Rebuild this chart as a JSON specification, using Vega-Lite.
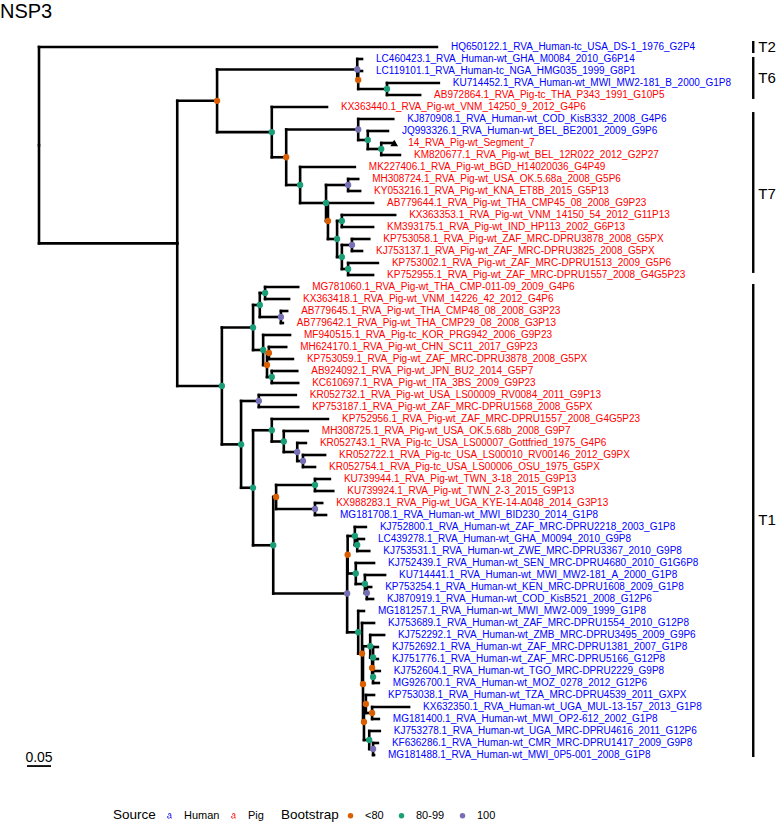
{
  "$schema": "https://vega.github.io/schema/vega-lite/v6.json",
  "width": 778,
  "height": 800,
  "autosize": {"type": "none"},
  "padding": {"left": 0, "top": 24, "right": 0, "bottom": 0},
  "title": {"text": "NSP3", "anchor": "start", "fontSize": 20, "fontWeight": "normal", "font": "Liberation Sans", "color": "#000", "offset": -14, "baseline": "alphabetic", "frame": "group"},
  "config": {"view": {"stroke": null}, "background": "white"},
  "datasets": {
    "edges": [
      {"px":0,"py":9.182,"cx":0.829,"cy":1,"label":"HQ650122.1_RVA_Human-tc_USA_DS-1_1976_G2P4","source":"Human"},
      {"px":0,"py":9.182,"cx":0.288,"cy":17.365},
      {"px":0.288,"py":17.365,"cx":0.371,"cy":5.484,"boot":"<80"},
      {"px":0.288,"py":17.365,"cx":0.381,"cy":29.245,"boot":"80-99"},
      {"px":0.371,"py":5.484,"cx":0.663,"cy":2.875,"boot":"100"},
      {"px":0.371,"py":5.484,"cx":0.485,"cy":8.094,"boot":"80-99"},
      {"px":0.663,"py":2.875,"cx":0.673,"cy":2,"label":"LC460423.1_RVA_Human-wt_GHA_M0084_2010_G6P14","source":"Human"},
      {"px":0.663,"py":2.875,"cx":0.665,"cy":3.75,"boot":"<80"},
      {"px":0.665,"py":3.75,"cx":0.673,"cy":3,"label":"LC119101.1_RVA_Human-tc_NGA_HMG035_1999_G8P1","source":"Human"},
      {"px":0.665,"py":3.75,"cx":0.725,"cy":4.5,"boot":"80-99"},
      {"px":0.725,"py":4.5,"cx":0.833,"cy":4,"label":"KU714452.1_RVA_Human-wt_MWI_MW2-181_B_2000_G1P8","source":"Human"},
      {"px":0.725,"py":4.5,"cx":0.794,"cy":5,"label":"AB972864.1_RVA_Pig-tc_THA_P343_1991_G10P5","source":"Pig"},
      {"px":0.485,"py":8.094,"cx":0.6,"cy":6,"label":"KX363440.1_RVA_Pig-wt_VNM_14250_9_2012_G4P6","source":"Pig"},
      {"px":0.485,"py":8.094,"cx":0.515,"cy":10.188,"boot":"<80"},
      {"px":0.515,"py":10.188,"cx":0.665,"cy":7.875,"boot":"100"},
      {"px":0.515,"py":10.188,"cx":0.544,"cy":12.5,"boot":"80-99"},
      {"px":0.665,"py":7.875,"cx":0.738,"cy":7,"label":"KJ870908.1_RVA_Human-wt_COD_KisB332_2008_G4P6","source":"Human"},
      {"px":0.665,"py":7.875,"cx":0.685,"cy":8.75,"boot":"80-99"},
      {"px":0.685,"py":8.75,"cx":0.727,"cy":8,"label":"JQ993326.1_RVA_Human-wt_BEL_BE2001_2009_G9P6","source":"Human"},
      {"px":0.685,"py":8.75,"cx":0.713,"cy":9.5,"boot":"80-99"},
      {"px":0.713,"py":9.5,"cx":0.74,"cy":9,"label":"14_RVA_Pig-wt_Segment_7","source":"Pig"},
      {"px":0.713,"py":9.5,"cx":0.752,"cy":10,"label":"KM820677.1_RVA_Pig-wt_BEL_12R022_2012_G2P27","source":"Pig"},
      {"px":0.544,"py":12.5,"cx":0.658,"cy":11,"label":"MK227406.1_RVA_Pig-wt_BGD_H14020036_G4P49","source":"Pig"},
      {"px":0.544,"py":12.5,"cx":0.598,"cy":14,"boot":"80-99"},
      {"px":0.598,"py":14,"cx":0.644,"cy":12.5,"boot":"100"},
      {"px":0.598,"py":14,"cx":0.602,"cy":15.5,"boot":"<80"},
      {"px":0.644,"py":12.5,"cx":0.665,"cy":12,"label":"MH308724.1_RVA_Pig-wt_USA_OK.5.68a_2008_G5P6","source":"Pig"},
      {"px":0.644,"py":12.5,"cx":0.669,"cy":13,"label":"KY053216.1_RVA_Pig-wt_KNA_ET8B_2015_G5P13","source":"Pig"},
      {"px":0.602,"py":15.5,"cx":0.696,"cy":14,"label":"AB779644.1_RVA_Pig-wt_THA_CMP45_08_2008_G9P23","source":"Pig"},
      {"px":0.602,"py":15.5,"cx":0.621,"cy":17,"boot":"80-99"},
      {"px":0.621,"py":17,"cx":0.631,"cy":15.5,"boot":"80-99"},
      {"px":0.621,"py":17,"cx":0.631,"cy":18.5,"boot":"80-99"},
      {"px":0.631,"py":15.5,"cx":0.742,"cy":15,"label":"KX363353.1_RVA_Pig-wt_VNM_14150_54_2012_G11P13","source":"Pig"},
      {"px":0.631,"py":15.5,"cx":0.696,"cy":16,"label":"KM393175.1_RVA_Pig-wt_IND_HP113_2002_G6P13","source":"Pig"},
      {"px":0.631,"py":18.5,"cx":0.652,"cy":17.5,"boot":"100"},
      {"px":0.631,"py":18.5,"cx":0.644,"cy":19.5,"boot":"80-99"},
      {"px":0.652,"py":17.5,"cx":0.688,"cy":17,"label":"KP753058.1_RVA_Pig-wt_ZAF_MRC-DPRU3878_2008_G5PX","source":"Pig"},
      {"px":0.652,"py":17.5,"cx":0.673,"cy":18,"label":"KJ753137.1_RVA_Pig-wt_ZAF_MRC-DPRU3825_2008_G5PX","source":"Pig"},
      {"px":0.644,"py":19.5,"cx":0.706,"cy":19,"label":"KP753002.1_RVA_Pig-wt_ZAF_MRC-DPRU1513_2009_G5P6","source":"Pig"},
      {"px":0.644,"py":19.5,"cx":0.696,"cy":20,"label":"KP752955.1_RVA_Pig-wt_ZAF_MRC-DPRU1557_2008_G4G5P23","source":"Pig"},
      {"px":0.381,"py":29.245,"cx":0.446,"cy":24.375,"boot":"80-99"},
      {"px":0.381,"py":29.245,"cx":0.421,"cy":34.115,"boot":"80-99"},
      {"px":0.446,"py":24.375,"cx":0.46,"cy":22.5,"boot":"80-99"},
      {"px":0.446,"py":24.375,"cx":0.467,"cy":26.25,"boot":"80-99"},
      {"px":0.46,"py":22.5,"cx":0.471,"cy":21.5,"boot":"80-99"},
      {"px":0.46,"py":22.5,"cx":0.504,"cy":23.5,"boot":"100"},
      {"px":0.471,"py":21.5,"cx":0.54,"cy":21,"label":"MG781060.1_RVA_Pig-wt_THA_CMP-011-09_2009_G4P6","source":"Pig"},
      {"px":0.471,"py":21.5,"cx":0.521,"cy":22,"label":"KX363418.1_RVA_Pig-wt_VNM_14226_42_2012_G4P6","source":"Pig"},
      {"px":0.504,"py":23.5,"cx":0.517,"cy":23,"label":"AB779645.1_RVA_Pig-wt_THA_CMP48_08_2008_G3P23","source":"Pig"},
      {"px":0.504,"py":23.5,"cx":0.508,"cy":24,"label":"AB779642.1_RVA_Pig-wt_THA_CMP29_08_2008_G3P13","source":"Pig"},
      {"px":0.467,"py":26.25,"cx":0.523,"cy":25,"label":"MF940515.1_RVA_Pig-tc_KOR_PRG942_2006_G9P23","source":"Pig"},
      {"px":0.467,"py":26.25,"cx":0.475,"cy":27.5,"boot":"<80"},
      {"px":0.475,"py":27.5,"cx":0.479,"cy":26.5,"boot":"<80"},
      {"px":0.475,"py":27.5,"cx":0.485,"cy":28.5,"boot":"80-99"},
      {"px":0.479,"py":26.5,"cx":0.515,"cy":26,"label":"MH624170.1_RVA_Pig-wt_CHN_SC11_2017_G9P23","source":"Pig"},
      {"px":0.479,"py":26.5,"cx":0.529,"cy":27,"label":"KP753059.1_RVA_Pig-wt_ZAF_MRC-DPRU3878_2008_G5PX","source":"Pig"},
      {"px":0.485,"py":28.5,"cx":0.538,"cy":28,"label":"AB924092.1_RVA_Pig-wt_JPN_BU2_2014_G5P7","source":"Pig"},
      {"px":0.485,"py":28.5,"cx":0.54,"cy":29,"label":"KC610697.1_RVA_Pig-wt_ITA_3BS_2009_G9P23","source":"Pig"},
      {"px":0.421,"py":34.115,"cx":0.458,"cy":30.5,"boot":"100"},
      {"px":0.421,"py":34.115,"cx":0.446,"cy":37.73,"boot":"80-99"},
      {"px":0.458,"py":30.5,"cx":0.535,"cy":30,"label":"KR052732.1_RVA_Pig-wt_USA_LS00009_RV0084_2011_G9P13","source":"Pig"},
      {"px":0.458,"py":30.5,"cx":0.54,"cy":31,"label":"KP753187.1_RVA_Pig-wt_ZAF_MRC-DPRU1568_2008_G5PX","source":"Pig"},
      {"px":0.446,"py":37.73,"cx":0.485,"cy":32.938,"boot":"80-99"},
      {"px":0.446,"py":37.73,"cx":0.488,"cy":42.522,"boot":"80-99"},
      {"px":0.485,"py":32.938,"cx":0.602,"cy":32,"label":"KP752956.1_RVA_Pig-wt_ZAF_MRC-DPRU1557_2008_G4G5P23","source":"Pig"},
      {"px":0.485,"py":32.938,"cx":0.51,"cy":33.875,"boot":"80-99"},
      {"px":0.51,"py":33.875,"cx":0.56,"cy":33,"label":"MH308725.1_RVA_Pig-wt_USA_OK.5.68b_2008_G9P7","source":"Pig"},
      {"px":0.51,"py":33.875,"cx":0.538,"cy":34.75,"boot":"100"},
      {"px":0.538,"py":34.75,"cx":0.556,"cy":34,"label":"KR052743.1_RVA_Pig-tc_USA_LS00007_Gottfried_1975_G4P6","source":"Pig"},
      {"px":0.538,"py":34.75,"cx":0.55,"cy":35.5,"boot":"100"},
      {"px":0.55,"py":35.5,"cx":0.596,"cy":35,"label":"KR052722.1_RVA_Pig-tc_USA_LS00010_RV00146_2012_G9PX","source":"Pig"},
      {"px":0.55,"py":35.5,"cx":0.575,"cy":36,"label":"KR052754.1_RVA_Pig-tc_USA_LS00006_OSU_1975_G5PX","source":"Pig"},
      {"px":0.488,"py":42.522,"cx":0.494,"cy":38.5,"boot":"<80"},
      {"px":0.488,"py":42.522,"cx":0.642,"cy":46.543,"boot":"100"},
      {"px":0.494,"py":38.5,"cx":0.575,"cy":37.5,"boot":"80-99"},
      {"px":0.494,"py":38.5,"cx":0.575,"cy":39.5,"boot":"100"},
      {"px":0.575,"py":37.5,"cx":0.606,"cy":37,"label":"KU739944.1_RVA_Pig-wt_TWN_3-18_2015_G9P13","source":"Pig"},
      {"px":0.575,"py":37.5,"cx":0.613,"cy":38,"label":"KU739924.1_RVA_Pig-wt_TWN_2-3_2015_G9P13","source":"Pig"},
      {"px":0.575,"py":39.5,"cx":0.59,"cy":39,"label":"KX988283.1_RVA_Pig-wt_UGA_KYE-14-A048_2014_G3P13","source":"Pig"},
      {"px":0.575,"py":39.5,"cx":0.598,"cy":40,"label":"MG181708.1_RVA_Human-wt_MWI_BID230_2014_G1P8","source":"Human"},
      {"px":0.642,"py":46.543,"cx":0.643,"cy":43.313,"boot":"<80"},
      {"px":0.642,"py":46.543,"cx":0.665,"cy":49.773,"boot":"80-99"},
      {"px":0.643,"py":43.313,"cx":0.658,"cy":41.75,"boot":"80-99"},
      {"px":0.643,"py":43.313,"cx":0.66,"cy":44.875,"boot":"80-99"},
      {"px":0.658,"py":41.75,"cx":0.681,"cy":41,"label":"KJ752800.1_RVA_Human-wt_ZAF_MRC-DPRU2218_2003_G1P8","source":"Human"},
      {"px":0.658,"py":41.75,"cx":0.663,"cy":42.5,"boot":"80-99"},
      {"px":0.663,"py":42.5,"cx":0.677,"cy":42,"label":"LC439278.1_RVA_Human-wt_GHA_M0094_2010_G9P8","source":"Human"},
      {"px":0.663,"py":42.5,"cx":0.688,"cy":43,"label":"KJ753531.1_RVA_Human-wt_ZWE_MRC-DPRU3367_2010_G9P8","source":"Human"},
      {"px":0.66,"py":44.875,"cx":0.698,"cy":44,"label":"KJ752439.1_RVA_Human-wt_SEN_MRC-DPRU4680_2010_G1G6P8","source":"Human"},
      {"px":0.66,"py":44.875,"cx":0.679,"cy":45.75,"boot":"80-99"},
      {"px":0.679,"py":45.75,"cx":0.721,"cy":45,"label":"KU714441.1_RVA_Human-wt_MWI_MW2-181_A_2000_G1P8","source":"Human"},
      {"px":0.679,"py":45.75,"cx":0.683,"cy":46.5,"boot":"100"},
      {"px":0.683,"py":46.5,"cx":0.692,"cy":46,"label":"KP753254.1_RVA_Human-wt_KEN_MRC-DPRU1608_2009_G1P8","source":"Human"},
      {"px":0.683,"py":46.5,"cx":0.696,"cy":47,"label":"KJ870919.1_RVA_Human-wt_COD_KisB521_2008_G12P6","source":"Human"},
      {"px":0.665,"py":49.773,"cx":0.677,"cy":48,"label":"MG181257.1_RVA_Human-wt_MWI_MW2-009_1999_G1P8","source":"Human"},
      {"px":0.665,"py":49.773,"cx":0.673,"cy":51.547,"boot":"<80"},
      {"px":0.673,"py":51.547,"cx":0.698,"cy":49,"label":"KJ753689.1_RVA_Human-wt_ZAF_MRC-DPRU1554_2010_G12P8","source":"Human"},
      {"px":0.673,"py":51.547,"cx":0.675,"cy":54.094,"boot":"<80"},
      {"px":0.675,"py":54.094,"cx":0.69,"cy":50.938,"boot":"80-99"},
      {"px":0.675,"py":54.094,"cx":0.677,"cy":57.25,"boot":"<80"},
      {"px":0.69,"py":50.938,"cx":0.719,"cy":50,"label":"KJ752292.1_RVA_Human-wt_ZMB_MRC-DPRU3495_2009_G9P6","source":"Human"},
      {"px":0.69,"py":50.938,"cx":0.696,"cy":51.875,"boot":"80-99"},
      {"px":0.696,"py":51.875,"cx":0.706,"cy":51,"label":"KJ752692.1_RVA_Human-wt_ZAF_MRC-DPRU1381_2007_G1P8","source":"Human"},
      {"px":0.696,"py":51.875,"cx":0.694,"cy":52.75,"boot":"<80"},
      {"px":0.694,"py":52.75,"cx":0.706,"cy":52,"label":"KJ751776.1_RVA_Human-wt_ZAF_MRC-DPRU5166_G12P8","source":"Human"},
      {"px":0.694,"py":52.75,"cx":0.696,"cy":53.5,"boot":"80-99"},
      {"px":0.696,"py":53.5,"cx":0.71,"cy":53,"label":"KJ752604.1_RVA_Human-wt_TGO_MRC-DPRU2229_G9P8","source":"Human"},
      {"px":0.696,"py":53.5,"cx":0.708,"cy":54,"label":"MG926700.1_RVA_Human-wt_MOZ_0278_2012_G12P6","source":"Human"},
      {"px":0.677,"py":57.25,"cx":0.681,"cy":55.75,"boot":"<80"},
      {"px":0.677,"py":57.25,"cx":0.688,"cy":58.75,"boot":"80-99"},
      {"px":0.681,"py":55.75,"cx":0.698,"cy":55,"label":"KP753038.1_RVA_Human-wt_TZA_MRC-DPRU4539_2011_GXPX","source":"Human"},
      {"px":0.681,"py":55.75,"cx":0.694,"cy":56.5,"boot":"<80"},
      {"px":0.694,"py":56.5,"cx":0.771,"cy":56,"label":"KX632350.1_RVA_Human-wt_UGA_MUL-13-157_2013_G1P8","source":"Human"},
      {"px":0.694,"py":56.5,"cx":0.708,"cy":57,"label":"MG181400.1_RVA_Human-wt_MWI_OP2-612_2002_G1P8","source":"Human"},
      {"px":0.688,"py":58.75,"cx":0.71,"cy":58,"label":"KJ753278.1_RVA_Human-wt_UGA_MRC-DPRU4616_2011_G12P6","source":"Human"},
      {"px":0.688,"py":58.75,"cx":0.696,"cy":59.5,"boot":"100"},
      {"px":0.696,"py":59.5,"cx":0.706,"cy":59,"label":"KF636286.1_RVA_Human-wt_CMR_MRC-DPRU1417_2009_G9P8","source":"Human"},
      {"px":0.696,"py":59.5,"cx":0.698,"cy":60,"label":"MG181488.1_RVA_Human-wt_MWI_0P5-001_2008_G1P8","source":"Human"}
    ],
    "clades": [
      {"clade":"T2","from":0.5,"to":1.5,"mid":1},
      {"clade":"T6","from":1.83,"to":5.33,"mid":3.58},
      {"clade":"T7","from":6.42,"to":19.83,"mid":13.25},
      {"clade":"T1","from":20.75,"to":60.17,"mid":40.42}
    ],
    "scalebar": [
      {"text":"0.05","start":-0.025,"end":0.025,"mid":0,"y":60.92}
    ]
  },
  "layer": [
    {
      "data": {"name": "edges"},
      "mark": {"type": "rule", "strokeWidth": 2.6, "strokeCap": "square", "color": "#000"},
      "encoding": {
        "x": {"field": "px", "type": "quantitative", "axis": null, "scale": {"domain": [0, 1], "range": [39, 519], "zero": false, "nice": false}},
        "y": {"field": "py", "type": "quantitative", "axis": null, "scale": {"domain": [1, 60], "range": [23, 731], "zero": false, "nice": false}},
        "y2": {"field": "cy"}
      }
    },
    {
      "data": {"name": "edges"},
      "mark": {"type": "rule", "strokeWidth": 2.6, "strokeCap": "square", "color": "#000"},
      "encoding": {
        "x": {"field": "px", "type": "quantitative"},
        "x2": {"field": "cx"},
        "y": {"field": "cy", "type": "quantitative"}
      }
    },
    {
      "data": {"name": "edges"},
      "transform": [{"filter": "isValid(datum.label)"}],
      "mark": {"type": "text", "align": "left", "baseline": "middle", "dx": 14, "fontSize": 10, "font": "Liberation Sans"},
      "encoding": {
        "x": {"field": "cx", "type": "quantitative"},
        "y": {"field": "cy", "type": "quantitative"},
        "text": {"field": "label"},
        "color": {
          "field": "source", "type": "nominal",
          "scale": {"domain": ["Human", "Pig"], "range": ["#0000ff", "#ff0000"]},
          "legend": {
            "title": "Source", "orient": "none", "legendX": 113, "legendY": 786, "direction": "horizontal", "titleOrient": "left",
            "titleFont": "Liberation Sans", "titleFontSize": 13.5, "titleFontWeight": "normal", "titleColor": "#000",
            "labelFont": "Liberation Sans", "labelFontSize": 11, "labelColor": "#000",
            "symbolType": "M-0.55,-0.35 C-0.5,-0.75 -0.25,-0.9 0.05,-0.9 C0.45,-0.9 0.65,-0.7 0.65,-0.35 L0.65,0.55 C0.65,0.7 0.7,0.75 0.85,0.75 L0.85,0.95 C0.55,1 0.4,0.9 0.38,0.72 C0.2,0.92 0,1 -0.25,1 C-0.6,1 -0.85,0.78 -0.85,0.45 C-0.85,0.05 -0.5,-0.08 0.38,-0.12 L0.38,-0.3 C0.38,-0.55 0.25,-0.66 0.02,-0.66 C-0.2,-0.66 -0.3,-0.55 -0.32,-0.35 Z M0.38,0.08 C-0.3,0.12 -0.55,0.22 -0.55,0.45 C-0.55,0.65 -0.42,0.76 -0.2,0.76 C0.15,0.76 0.38,0.58 0.38,0.3 Z",
            "symbolSize": 30, "symbolStrokeWidth": 0, "labelOffset": 9, "columnPadding": 8, "titlePadding": 8
          }
        }
      }
    },
    {
      "data": {"name": "edges"},
      "transform": [{"filter": "isValid(datum.boot)"}],
      "mark": {"type": "point", "shape": "circle", "filled": true, "size": 40, "opacity": 1},
      "encoding": {
        "x": {"field": "cx", "type": "quantitative"},
        "y": {"field": "cy", "type": "quantitative"},
        "fill": {
          "field": "boot", "type": "nominal",
          "scale": {"domain": ["<80", "80-99", "100"], "range": ["#D95F02", "#1B9E77", "#7570B3"]},
          "legend": {
            "title": "Bootstrap", "orient": "none", "legendX": 281, "legendY": 786, "direction": "horizontal", "titleOrient": "left",
            "titleFont": "Liberation Sans", "titleFontSize": 13.5, "titleFontWeight": "normal", "titleColor": "#000",
            "labelFont": "Liberation Sans", "labelFontSize": 11, "labelColor": "#000",
            "symbolType": "circle", "symbolSize": 30, "symbolStrokeWidth": 0, "labelOffset": 9, "columnPadding": 12, "titlePadding": 6
          }
        }
      }
    },
    {
      "data": {"name": "edges"},
      "transform": [{"filter": "datum.label === '14_RVA_Pig-wt_Segment_7'"}],
      "mark": {"type": "point", "shape": "triangle-up", "filled": true, "color": "#000", "size": 60, "opacity": 1},
      "encoding": {
        "x": {"field": "cx", "type": "quantitative"},
        "y": {"field": "cy", "type": "quantitative"}
      }
    },
    {
      "data": {"name": "clades"},
      "mark": {"type": "rule", "strokeWidth": 2.4, "color": "#000"},
      "encoding": {
        "x": {"datum": 1.488, "type": "quantitative"},
        "y": {"field": "from", "type": "quantitative"},
        "y2": {"field": "to"}
      }
    },
    {
      "data": {"name": "clades"},
      "mark": {"type": "text", "align": "left", "baseline": "middle", "dx": 5, "fontSize": 15, "font": "Liberation Sans", "color": "#000"},
      "encoding": {
        "x": {"datum": 1.488, "type": "quantitative"},
        "y": {"field": "mid", "type": "quantitative"},
        "text": {"field": "clade"}
      }
    },
    {
      "data": {"name": "scalebar"},
      "mark": {"type": "rule", "strokeWidth": 1.8, "color": "#000"},
      "encoding": {
        "x": {"field": "start", "type": "quantitative"},
        "x2": {"field": "end"},
        "y": {"field": "y", "type": "quantitative"}
      }
    },
    {
      "data": {"name": "scalebar"},
      "mark": {"type": "text", "align": "center", "baseline": "alphabetic", "dy": -4, "fontSize": 14, "font": "Liberation Sans", "color": "#000"},
      "encoding": {
        "x": {"field": "mid", "type": "quantitative"},
        "y": {"field": "y", "type": "quantitative"},
        "text": {"field": "text"}
      }
    }
  ]
}
